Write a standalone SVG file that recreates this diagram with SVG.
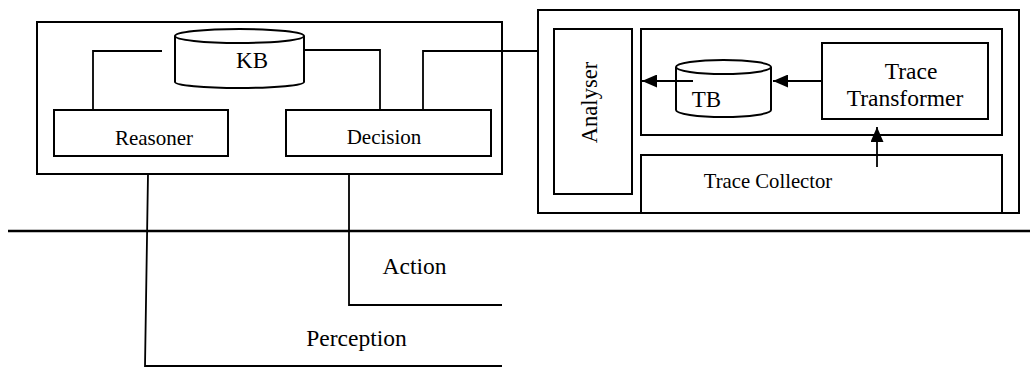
<svg xmlns="http://www.w3.org/2000/svg" width="1030" height="368" viewBox="0 0 1030 368">
<style>
.b{fill:none;stroke:#000;stroke-width:2}
.c{fill:none;stroke:#000;stroke-width:1.8}
.t{font-family:"Liberation Serif","Times New Roman",serif;fill:#000;text-anchor:middle}
</style>
<defs>
<marker id="ah" viewBox="0 0 15 13" refX="15" refY="6.5" markerWidth="15" markerHeight="13" markerUnits="userSpaceOnUse" orient="auto">
<path d="M0,0 L15,6.5 L0,13 Z" fill="#000"/>
</marker>
</defs>
<rect width="1030" height="368" fill="#fff"/>
<g id="agent">
<rect class="b" x="37" y="22" width="465" height="152"/>
</g>
<g id="kb">
<path class="b" d="M175,36 A64.5,7 0 0 1 304,36 A64.5,7 0 0 1 175,36 Z M175,36 L175,82 A64.5,6 0 0 0 304,82 L304,36"/>
<text class="t" x="252" y="68" font-size="23">KB</text>
</g>
<g id="reasoner">
<rect class="b" x="54" y="110" width="174" height="46"/>
<text class="t" x="154" y="145" font-size="21">Reasoner</text>
</g>
<g id="decision">
<rect class="b" x="286" y="110" width="205" height="46"/>
<text class="t" x="384" y="144" font-size="21">Decision</text>
</g>
<g id="monitor">
<rect class="b" x="538" y="10" width="481" height="203"/>
</g>
<g id="analyser">
<rect class="b" x="554" y="29" width="78" height="165"/>
<text class="t" transform="translate(597,102.5) rotate(-90)" font-size="22.6">Analyser</text>
</g>
<g id="inner">
<rect class="b" x="641" y="29" width="361" height="106"/>
</g>
<g id="tb">
<path class="b" d="M676,67 A47.5,7 0 0 1 771,67 A47.5,7 0 0 1 676,67 Z M676,67 L676,110 A47.5,7 0 0 0 771,110 L771,67"/>
<text class="t" x="706.5" y="107" font-size="23">TB</text>
</g>
<g id="transformer">
<rect class="b" x="822" y="43" width="166" height="76"/>
<text class="t" x="911" y="79" font-size="23.5">Trace</text>
<text class="t" x="905" y="106" font-size="23.5">Transformer</text>
</g>
<g id="collector">
<rect class="b" x="641" y="155" width="361" height="58"/>
<text class="t" x="768" y="188" font-size="20.7">Trace Collector</text>
</g>
<g id="connectors">
<polyline class="c" points="162,51 93,51 93,110"/>
<polyline class="c" points="304,50 380,50 380,110"/>
<polyline class="c" points="423,110 423,51 538,51"/>
<polyline class="c" points="148,174 145,366 502,366"/>
<polyline class="c" points="349,174 349,305 502,305"/>
<line x1="8" y1="231" x2="1030" y2="231" stroke="#000" stroke-width="2.5"/>
<line class="c" x1="822" y1="81" x2="773" y2="81" marker-end="url(#ah)"/>
<line class="c" x1="693" y1="81" x2="642" y2="81" marker-end="url(#ah)"/>
<line class="c" x1="877" y1="167" x2="877" y2="127" marker-end="url(#ah)"/>
</g>
<g id="labels">
<text class="t" x="414.5" y="274" font-size="23.5">Action</text>
<text class="t" x="356.5" y="346" font-size="23.5">Perception</text>
</g>
</svg>
